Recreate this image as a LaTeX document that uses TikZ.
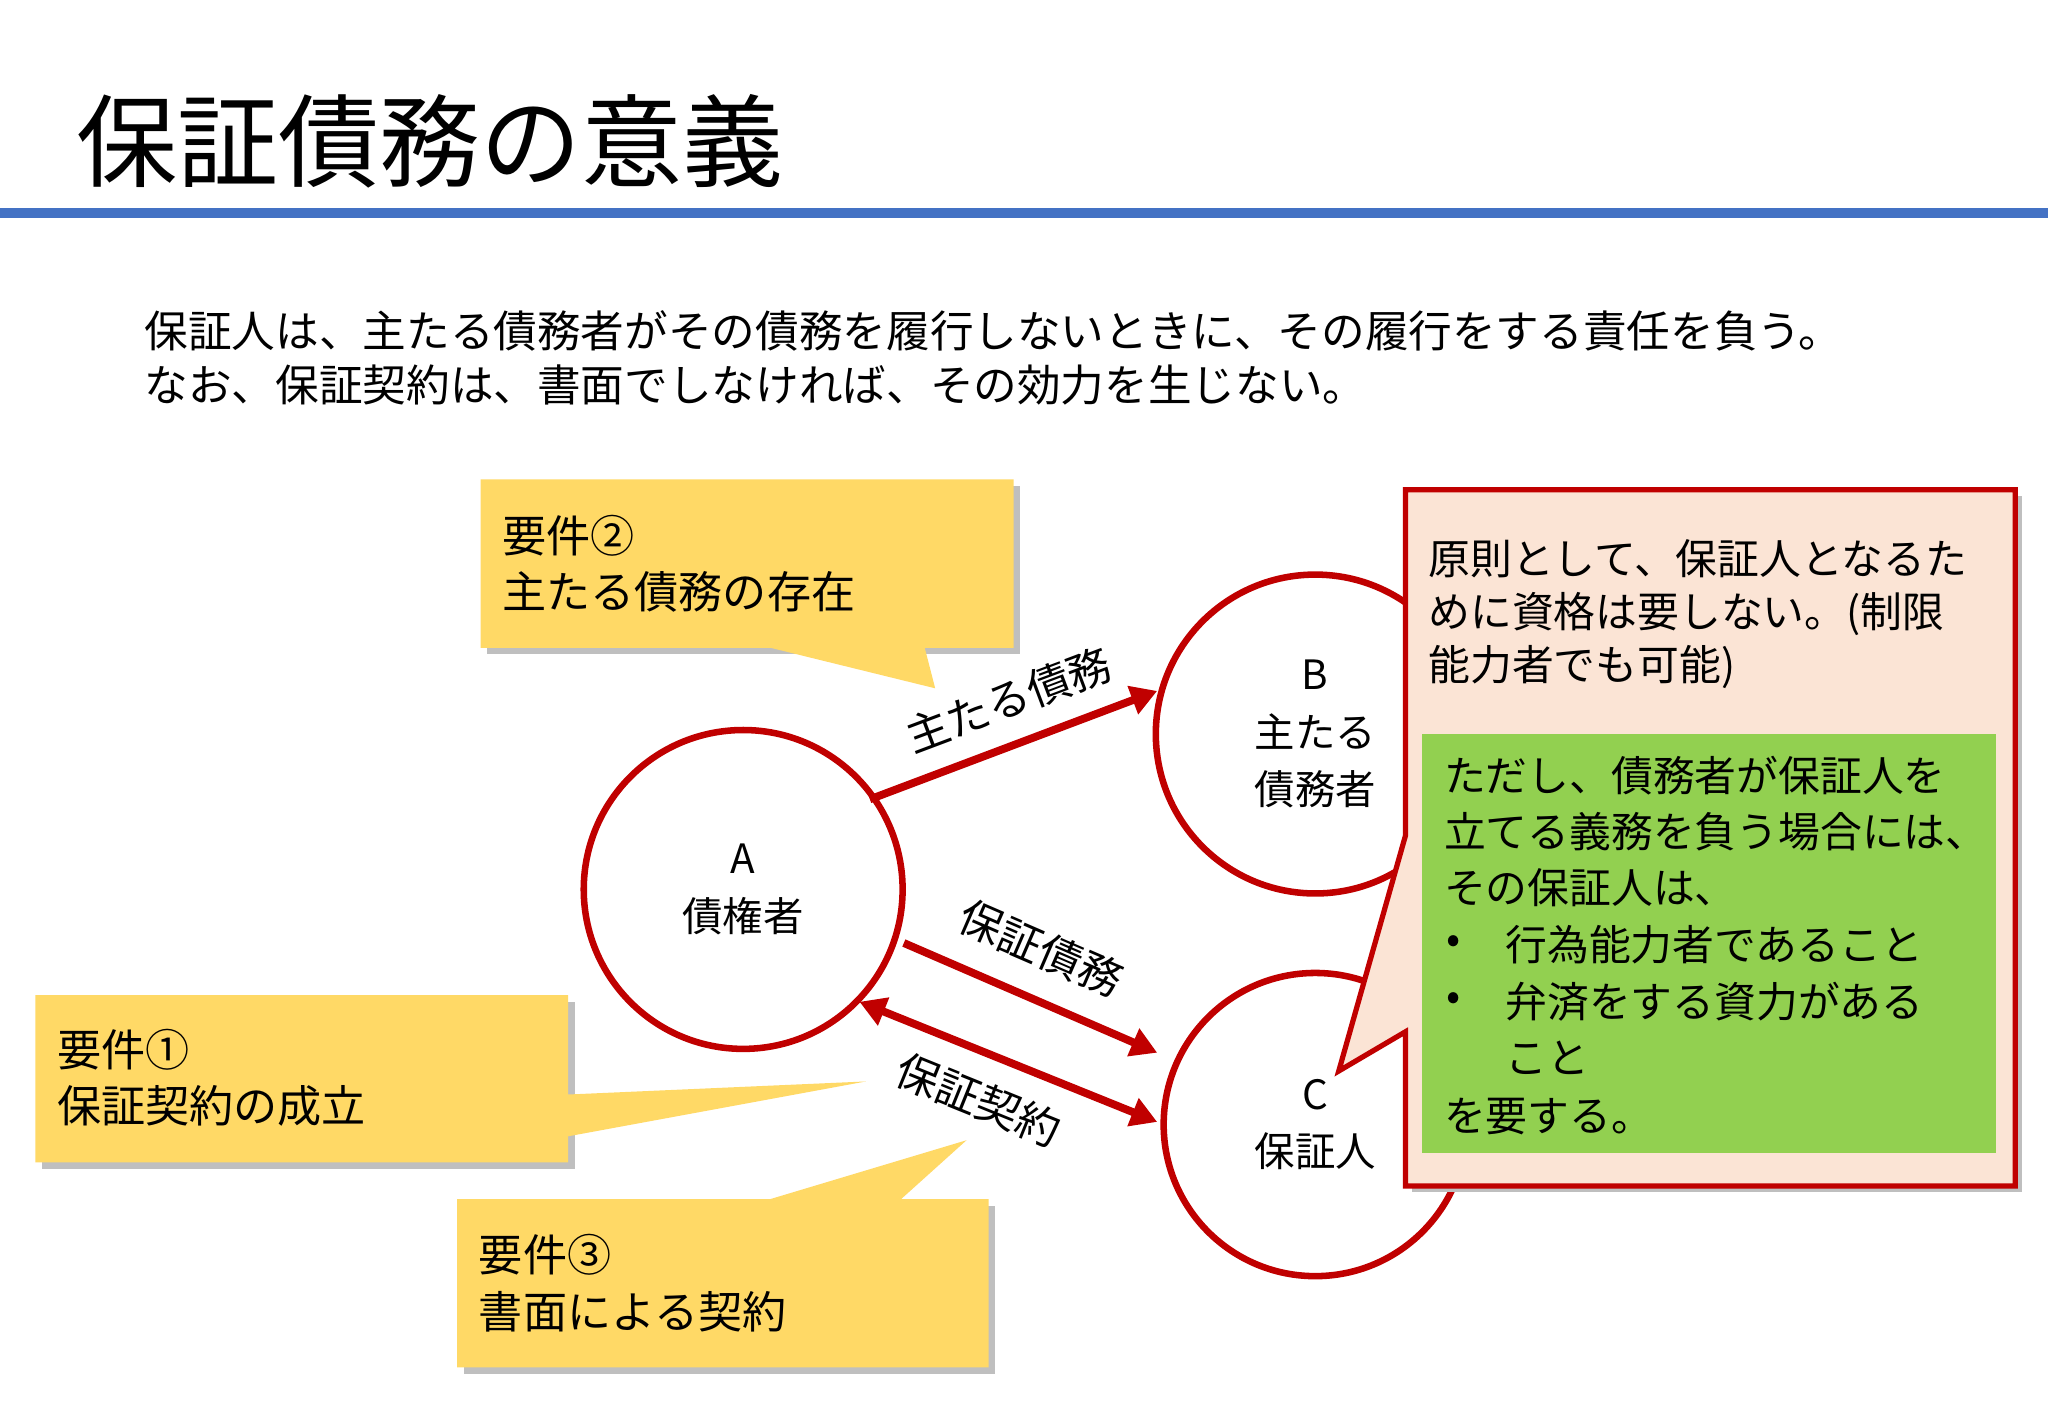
\documentclass[tikz,border=0pt]{standalone}
\usepackage{fontspec}
\setmainfont{Noto Sans CJK JP}
\usetikzlibrary{arrows.meta}
\definecolor{dred}{RGB}{192,0,0}
\definecolor{yel}{RGB}{255,217,102}
\definecolor{pinkf}{RGB}{251,228,213}
\definecolor{grn}{RGB}{146,208,80}
\definecolor{blu}{RGB}{68,114,196}
\tikzset{
 px/.style={x=0.01cm,y=-0.01cm},
 circ/.style={circle,draw=dred,line width=0.05cm,fill=white,minimum size=2.44cm,align=center,font=\fontsize{8.8}{12.5}\selectfont},
 callout/.style={fill=yel,draw=none},
 shad/.style={fill=black!25},
 ctext/.style={anchor=west,inner sep=0pt,font=\fontsize{9.6}{13}\selectfont},
 rtext/.style={anchor=west,inner sep=0pt,font=\fontsize{9.1}{12}\selectfont},
 btext/.style={anchor=west,inner sep=0pt,font=\fontsize{9.5}{12}\selectfont},
 arr/.style={dred,line width=0.06cm,-{Triangle[length=0.2cm,width=0.22cm]}},
 darr/.style={dred,line width=0.06cm,{Triangle[length=0.2cm,width=0.22cm]}-{Triangle[length=0.2cm,width=0.22cm]}},
 lab/.style={font=\fontsize{9.4}{12}\selectfont}
}
\begin{document}
\begin{tikzpicture}[px]
\useasboundingbox (0,0) rectangle (1568,1086);
\fill[white] (0,0) rectangle (1568,1086);
\node[anchor=west,inner sep=0pt,font=\fontsize{22}{26}\selectfont] (title) at (58,108) {保証債務の意義};
\fill[blu] (0,159) rectangle (1568,167);
\node[btext] (t1) at (110,253) {保証人は、主たる債務者がその債務を履行しないときに、その履行をする責任を負う。};
\node[btext] (t2) at (110,295) {なお、保証契約は、書面でしなければ、その効力を生じない。};
% circles
\node[circ] (A) at (569,681) {A\\債権者};
\node[circ] (B) at (1007,562) {B\\主たる\\債務者};
\node[circ,minimum size=2.32cm] (C) at (1007,861) {C\\保証人};
% arrows
\coordinate (a1) at (666,612); \coordinate (b1) at (886,529);
\coordinate (a2) at (692,722); \coordinate (c2) at (886,806);
\coordinate (a3) at (658,767); \coordinate (c3) at (886,859);
\draw[arr] (a1) -- (b1);
\draw[arr] (a2) -- (c2);
\draw[darr] (a3) -- (c3);
\node[lab,rotate=20.6] (l1) at (772,536) {主たる債務};
\node[lab,rotate=-23.4] (l2) at (797,726) {保証債務};
\node[lab,rotate=-22] (l3) at (749,842) {保証契約};
% callout 2
\fill[shad] (373,372) -- (781,372) -- (781,501) -- (373,501) -- cycle;
\fill[callout] (368,367) -- (776,367) -- (776,496) -- (708,496) -- (716,527) -- (590,496) -- (368,496) -- cycle;
\node[ctext] (k2a) at (384,410) {要件②};
\node[ctext] (k2b) at (384,453) {主たる債務の存在};
% callout 1
\fill[shad] (32,767) -- (440,767) -- (440,895) -- (32,895) -- cycle;
\fill[callout] (27,762) -- (435,762) -- (435,838) -- (663,828) -- (435,870) -- (435,890) -- (27,890) -- cycle;
\node[ctext] (k1a) at (43,804) {要件①};
\node[ctext] (k1b) at (43,847) {保証契約の成立};
% callout 3
\fill[shad] (355,923) -- (762,923) -- (762,1052) -- (355,1052) -- cycle;
\fill[callout] (350,918) -- (590,918) -- (740,873) -- (690,918) -- (757,918) -- (757,1047) -- (350,1047) -- cycle;
\node[ctext] (k3a) at (366,961) {要件③};
\node[ctext] (k3b) at (366,1004) {書面による契約};
% red callout
\fill[shad] (1081,380) -- (1548,380) -- (1548,913) -- (1081,913) -- cycle;
\filldraw[fill=pinkf,draw=dred,line width=0.04cm] (1076,375) -- (1543,375) -- (1543,908) -- (1076,908) -- (1076,790) -- (1025,820) -- (1076,640) -- cycle;
\node[rtext] (r1) at (1093,428) {原則として、保証人となるた};
\node[rtext] (r2) at (1093,470) {めに資格は要しない。(制限};
\node[rtext] (r3) at (1093,511) {能力者でも可能)};
\fill[grn] (1089,562) rectangle (1528,883);
\node[rtext] (g1) at (1105,594) {ただし、債務者が保証人を};
\node[rtext] (g2) at (1105,637) {立てる義務を負う場合には、};
\node[rtext] (g3) at (1105,680) {その保証人は、};
\node[rtext] (g4b) at (1107,723) {•};
\node[rtext] (g4) at (1152,723) {行為能力者であること};
\node[rtext] (g5b) at (1107,767) {•};
\node[rtext] (g5) at (1152,767) {弁済をする資力がある};
\node[rtext] (g6) at (1152,810) {こと};
\node[rtext] (g7) at (1105,855) {を要する。};
\end{tikzpicture}
\end{document}
